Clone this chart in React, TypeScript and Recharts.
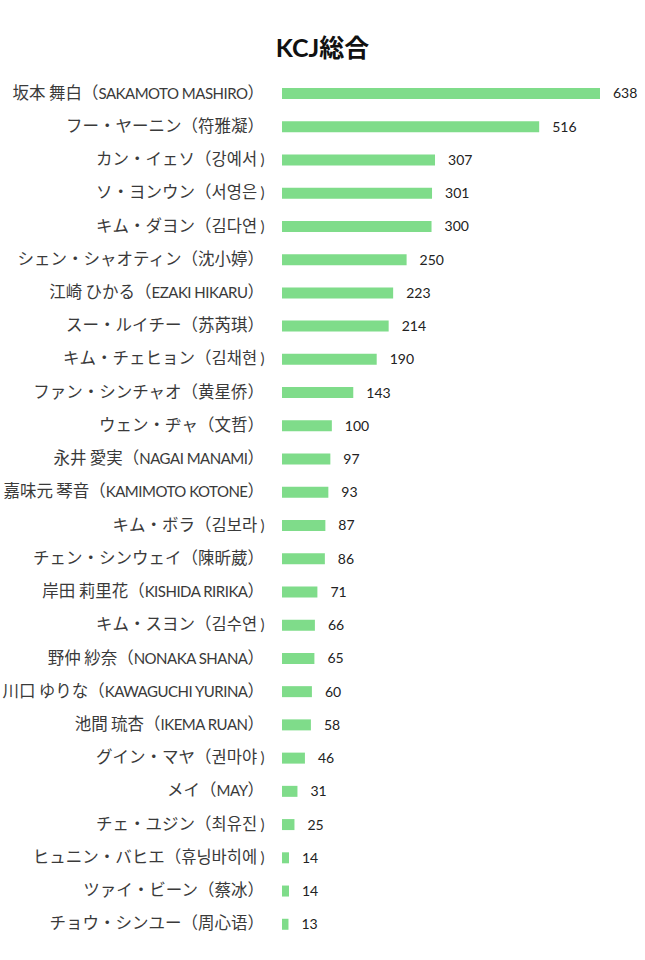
// KCJ総合 — 横棒グラフ
import { BarChart, Bar, XAxis, YAxis, LabelList } from 'recharts';

const names = [
  '坂本 舞白（SAKAMOTO MASHIRO）',
  'フー・ヤーニン（符雅凝）',
  'カン・イェソ（강예서 )',
  'ソ・ヨンウン（서영은 )',
  'キム・ダヨン（김다연 )',
  'シェン・シャオティン（沈小婷）',
  '江崎 ひかる（EZAKI HIKARU）',
  'スー・ルイチー（苏芮琪）',
  'キム・チェヒョン（김채현 )',
  'ファン・シンチャオ（黄星侨）',
  'ウェン・ヂャ（文哲）',
  '永井 愛実（NAGAI MANAMI）',
  '嘉味元 琴音（KAMIMOTO KOTONE）',
  'キム・ボラ（김보라 )',
  'チェン・シンウェイ（陳昕葳）',
  '岸田 莉里花（KISHIDA RIRIKA）',
  'キム・スヨン（김수연 )',
  '野仲 紗奈（NONAKA SHANA）',
  '川口 ゆりな（KAWAGUCHI YURINA）',
  '池間 琉杏（IKEMA RUAN）',
  'グイン・マヤ（권마야 )',
  'メイ（MAY）',
  'チェ・ユジン（최유진 )',
  'ヒュニン・バヒエ（휴닝바히에 )',
  'ツァイ・ビーン（蔡冰）',
  'チョウ・シンユー（周心语）',
];

const points = [
  638, 516, 307, 301, 300, 250, 223, 214, 190, 143, 100, 97, 93,
  87, 86, 71, 66, 65, 60, 58, 46, 31, 25, 14, 14, 13,
];

const data = names.map((name, i) => ({ name, value: points[i] }));

const FONT = "Lato, 'Noto Sans CJK JP', sans-serif";
const CJK = "'Noto Sans CJK JP', sans-serif";

// 和文と欧文でサイズを変える（元画像は欧文が細め）
const NameTick = ({ x, y, payload }: any) => {
  const parts: string[] = String(payload.value).match(/[\x20-\x7e]+|[^\x20-\x7e]+/g) || [];
  return (
    <text x={x} y={y} dy={5} textAnchor="end" fill="#3a3a3a">
      {parts.map((p, i) => {
        const latin = /^[\x20-\x7e]+$/.test(p);
        return (
          <tspan
            key={i}
            fontFamily={latin ? FONT : CJK}
            fontSize={latin ? 15 : 16.5}
            letterSpacing={latin ? -0.5 : 0}
          >
            {p}
          </tspan>
        );
      })}
    </text>
  );
};

export default function App() {
  return (
    <div style={{ position: 'absolute', top: 0, left: 0, width: 645, height: 960, background: '#fff' }}>
      <div style={{
        position: 'absolute',
        top: 28,
        left: 0,
        width: 645,
        textAlign: 'center',
        fontFamily: FONT,
        fontWeight: 700,
        fontSize: 25,
        color: '#111',
      }}>
        KCJ総合
      </div>
      <BarChart
        width={645}
        height={960}
        data={data}
        layout="vertical"
        margin={{ top: 77, right: 45, left: 0, bottom: 19 }}
        barCategoryGap={0}
      >
        <XAxis type="number" domain={[0, 638]} hide />
        <YAxis
          type="category"
          dataKey="name"
          width={282}
          axisLine={false}
          tickLine={false}
          tickSize={0}
          tickMargin={18}
          interval={0}
          tick={<NameTick />}
        />
        <Bar dataKey="value" fill="#7fdc8a" barSize={11} isAnimationActive={false}>
          <LabelList
            dataKey="value"
            position="right"
            offset={13}
            style={{ fill: '#222', fontSize: 14, fontFamily: FONT }}
          />
        </Bar>
      </BarChart>
    </div>
  );
}
